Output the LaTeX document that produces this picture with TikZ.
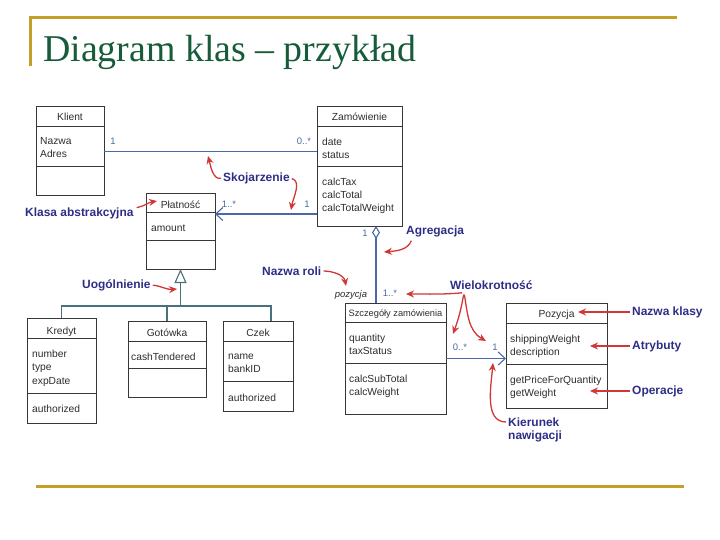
\documentclass[tikz,border=0pt]{standalone}
\usepackage{fontspec}
\setmainfont{Liberation Serif}
\setsansfont{Liberation Sans}
\usetikzlibrary{arrows.meta,calc}
\definecolor{gold}{RGB}{196,160,40}
\definecolor{titlegreen}{RGB}{22,92,58}
\definecolor{navy}{RGB}{45,45,135}
\definecolor{annred}{RGB}{210,55,55}
\definecolor{boxgray}{RGB}{55,55,55}
\definecolor{assocblue}{RGB}{75,105,165}
\definecolor{gencol}{RGB}{75,112,125}
\definecolor{txtgray}{RGB}{45,45,45}
\newcommand\umlcls[7]{%
  \node[clsbox, minimum width=#4bp-#2bp, minimum height=#5bp-#3bp] (#1) at (#2,#3) {};
  \draw[boxline] (#2,#6) -- (#4,#6);
  \draw[boxline] (#2,#7) -- (#4,#7);
}
\begin{document}
\begin{tikzpicture}[x=1bp,y=-1bp,
  clsbox/.style={draw=boxgray, line width=1bp, inner sep=0, outer sep=0, anchor=north west},
  boxline/.style={draw=boxgray, line width=1bp},
  ctext/.style={font=\fontsize{10.3}{13}\selectfont\sffamily, text=txtgray, inner sep=0, anchor=base west},
  chead/.style={ctext, anchor=base},
  ann/.style={font=\fontsize{12}{14}\selectfont\sffamily\bfseries, text=navy, inner sep=0, anchor=west},
  annarrow/.style={draw=annred, line width=1.3bp, shorten <=2bp, -{Stealth[length=8bp,width=7bp]}},
  mult/.style={font=\fontsize{9.5}{11}\selectfont\sffamily, text=assocblue, inner sep=0},
  assoc/.style={draw=assocblue, line width=1.1bp},
  gen/.style={draw=gencol, line width=1.1bp},
  goldline/.style={draw=gold, line width=3bp}]
\useasboundingbox (0,0) rectangle (720,540);
% frame lines
\draw[goldline] (29,18) -- (677,18);
\draw[goldline] (30,18) -- (30,66);
\draw[goldline] (36,486) -- (684,486);
\node[font=\fontsize{38}{40}\selectfont, text=titlegreen, anchor=base west, inner sep=0] (title) at (43,62) {Diagram klas – przykład};

% classes
\umlcls{klient}{36}{107}{104}{196}{127}{167}
\umlcls{zam}{317}{107}{402}{226}{127}{167}
\umlcls{plat}{146}{194}{215}{269}{213}{241}
\umlcls{kredyt}{27}{318}{96}{423}{338}{393}
\umlcls{gotowka}{128}{321}{206}{397}{341}{368}
\umlcls{czek}{223}{321}{293}{411}{341}{381}
\umlcls{szcz}{345}{303}{446}{414}{322}{363}
\umlcls{poz}{506}{303}{607}{408}{323}{364}

% class texts
\node[chead] (klientN) at (70,121) {Klient};
\node[ctext] (klientA1) at (40,145) {Nazwa};
\node[ctext] (klientA2) at (40,158) {Adres};

\node[chead] (zamN) at (359.5,121) {Zamówienie};
\node[ctext] (zamA1) at (322,146) {date};
\node[ctext] (zamA2) at (322,159) {status};
\node[ctext] (zamO1) at (322,186) {calcTax};
\node[ctext] (zamO2) at (322,199) {calcTotal};
\node[ctext] (zamO3) at (322,212) {calcTotalWeight};

\node[chead] (platN) at (180.5,209) {Płatność};
\node[ctext] (platA1) at (151,232) {amount};

\node[chead] (kredytN) at (61.5,334) {Kredyt};
\node[ctext] (kredytA1) at (32,357) {number};
\node[ctext] (kredytA2) at (32,370.5) {type};
\node[ctext] (kredytA3) at (32,384) {expDate};
\node[ctext] (kredytO1) at (32,412) {authorized};

\node[chead] (gotowkaN) at (167,336) {Gotówka};
\node[ctext] (gotowkaA1) at (131,360) {cashTendered};

\node[chead] (czekN) at (258,336) {Czek};
\node[ctext] (czekA1) at (228,359) {name};
\node[ctext] (czekA2) at (228,372) {bankID};
\node[ctext] (czekO1) at (228,401) {authorized};

\node[chead, font=\fontsize{9.3}{11}\selectfont\sffamily] (szczN) at (395.5,316) {Szczegóły zamówienia};
\node[ctext] (szczA1) at (349,341) {quantity};
\node[ctext] (szczA2) at (349,354) {taxStatus};
\node[ctext] (szczO1) at (349,382) {calcSubTotal};
\node[ctext] (szczO2) at (349,395) {calcWeight};

\node[chead] (pozN) at (556.5,317) {Pozycja};
\node[ctext] (pozA1) at (510,342) {shippingWeight};
\node[ctext] (pozA2) at (510,355) {description};
\node[ctext] (pozO1) at (510,383) {getPriceForQuantity};
\node[ctext] (pozO2) at (510,396) {getWeight};

% connectors
\draw[assoc] (klient.east) -- (klient.east -| zam.west);
\coordinate (zp) at ($(zam.south west)+(0,-12)$);
\draw[assoc, -{Straight Barb[length=7bp,width=13bp]}] (zp) -- (zp -| plat.east);
\coordinate (ag) at ($(zam.south west)+(59,0)$);
\draw[assoc, {Diamond[open,length=13bp,width=8bp]}-] (ag) -- (ag |- szcz.north);
\draw[assoc, -{Straight Barb[length=7bp,width=13bp]}] (szcz.east) -- (szcz.east -| poz.west);

\coordinate (bus) at ($(plat.south)+(0,37)$);
\coordinate (czdrop) at ($(czek.north)+(13,0)$);
\draw[gen, -{Triangle[open,length=14bp,width=12bp]}] (bus) -- (plat.south);
\draw[gen] (kredyt.north) |- (bus);
\draw[gen] (czdrop) |- (bus);
\draw[gen] (gotowka.north) -- (gotowka.north |- bus);

% multiplicities and role
\node[mult] (m1) at (113,141) {1};
\node[mult] (m2) at (304,141) {0..*};
\node[mult] (m3) at (229,204) {1..*};
\node[mult] (m4) at (307,204) {1};
\node[mult] (m5) at (365,233) {1};
\node[mult] (m6) at (390,293) {1..*};
\node[mult, text=txtgray, font=\fontsize{9.5}{11}\selectfont\sffamily\itshape] (role) at (351,295) {pozycja};
\node[mult] (m7) at (460,347) {0..*};
\node[mult] (m8) at (495,347) {1};

% annotations
\node[ann] (skoj) at (223,178) {Skojarzenie};
\node[ann] (klasa) at (25,213) {Klasa abstrakcyjna};
\node[ann] (uog) at (82,285) {Uogólnienie};
\node[ann] (agr) at (406,231) {Agregacja};
\node[ann] (nroli) at (262,271) {Nazwa roli};
\node[ann] (wiel) at (450,285) {Wielokrotność};
\node[ann] (nkl) at (632,312) {Nazwa klasy};
\node[ann] (atr) at (632,346) {Atrybuty};
\node[ann] (oper) at (632,391) {Operacje};
\node[ann] (kier1) at (508,422) {Kierunek};
\node[ann] (kier2) at (508,436) {nawigacji};

\draw[annarrow] (skoj.west) to[out=190,in=-75] (208,156);
\draw[annarrow] (skoj.east) to[out=-15,in=80] (291,210);
\draw[annarrow] ($(klasa.east)+(1,-5)$) to[out=10,in=190] (157,201);
\draw[annarrow] (uog.east) to[out=-5,in=185] (177,289);
\draw[annarrow] ($(agr.south west)+(6,2)$) to[out=-110,in=5] (384,252);
\draw[annarrow] (nroli.east) to[out=0,in=100] (346,286);
\coordinate (w0) at ($(wiel.south west)+(14,3)$);
\draw[annarrow] (w0) to[out=185,in=0] (406,294);
\draw[annarrow] (w0) to[out=-100,in=70] (453,334);
\draw[annarrow] (w0) to[out=-80,in=150] (486,341);
\draw[annarrow] (nkl.west) -- (578,312);
\draw[annarrow] (atr.west) -- (590,346);
\draw[annarrow] (oper.west) -- (590,391);
\draw[annarrow] (kier1.west) to[out=180,in=-95] (493,363);
\end{tikzpicture}
\end{document}
